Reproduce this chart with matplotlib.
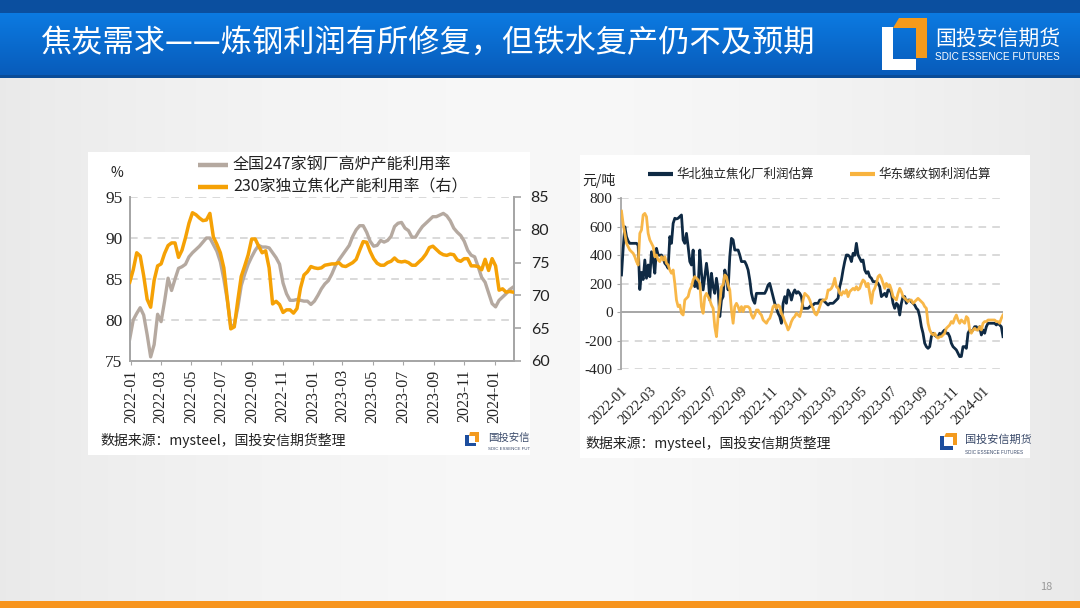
import numpy as np
import pandas as pd
import matplotlib
matplotlib.use('Agg')
import matplotlib.pyplot as plt
from matplotlib.patches import Rectangle, Polygon

plt.rcParams['font.family'] = ['Noto Sans CJK SC', 'DejaVu Sans']
plt.rcParams['axes.unicode_minus'] = False

# ---------------- data ----------------
title = '焦炭需求——炼钢利润有所修复，但铁水复产仍不及预期'
left_series_names = ['全国247家钢厂高炉产能利用率', '230家独立焦化产能利用率（右）']
right_series_names = ['华北独立焦化厂利润估算', '华东螺纹钢利润估算']
source_text = '数据来源：mysteel，国投安信期货整理'

# weekly, left chart (starting end of Dec 2021)
bf_util = [
    77.7, 80.0, 80.8, 81.5, 80.6, 78.2, 75.5, 77.0, 80.7, 79.8,
    82.3, 85.1, 83.6, 85.0, 86.3, 86.5, 86.8, 87.7, 88.2, 88.6,
    89.0, 89.5, 90.0, 90.0, 89.2, 88.4, 87.1, 85.0, 82.4, 79.2,
    79.4, 81.5, 84.2, 85.6, 86.8, 87.7, 88.5, 89.1, 88.9, 88.9,
    88.8, 88.2, 87.6, 86.8, 84.5, 83.2, 82.4, 82.4, 82.5, 82.4,
    82.3, 82.3, 81.9, 82.3, 83.0, 83.8, 84.4, 84.8, 85.6, 86.6,
    87.3, 87.9, 88.5, 89.1, 90.2, 91.0, 91.5, 91.5, 90.7, 89.6,
    89.0, 89.1, 89.7, 89.5, 89.7, 90.2, 91.4, 91.8, 91.9, 91.2,
    90.9, 90.1, 90.1, 90.8, 91.4, 91.8, 92.2, 92.6, 92.6, 92.8,
    93.0, 92.7, 92.1, 91.2, 90.7, 90.3, 89.6, 88.5, 87.9, 87.7,
    86.5, 85.2, 84.6, 83.3, 82.0, 81.6, 82.4, 82.8, 83.2, 83.7,
    84.0]
coke_util = [
    72.0, 73.9, 76.5, 76.0, 73.0, 69.4, 68.2, 72.3, 74.5, 74.8,
    76.4, 77.6, 78.0, 78.0, 75.8, 76.9, 78.8, 81.0, 82.6, 82.3,
    81.8, 81.4, 81.5, 82.5, 78.9, 77.8, 76.5, 74.2, 69.5, 64.9,
    65.2, 69.2, 72.9, 74.5, 76.2, 78.6, 78.6, 77.5, 76.5, 76.8,
    74.2, 68.7, 69.1, 68.6, 67.4, 67.8, 67.8, 67.3, 68.0, 71.1,
    73.1, 73.6, 74.4, 74.2, 74.1, 74.2, 74.6, 74.7, 74.8, 74.8,
    75.0, 74.5, 74.4, 74.7, 75.0, 75.5, 76.9, 78.2, 78.1, 76.7,
    75.6, 74.9, 74.6, 74.6, 75.0, 75.2, 75.7, 75.2, 75.1, 75.2,
    75.0, 74.6, 74.6, 75.1, 75.6, 76.3, 77.3, 77.5, 77.0, 76.5,
    76.2, 76.1, 76.3, 76.2, 75.4, 75.2, 75.6, 75.6, 74.5, 74.5,
    74.4, 73.9, 75.5, 73.8, 75.6, 74.5, 70.8, 71.0, 70.5, 70.6,
    70.5]

# right chart, evenly spaced from 2022-01-02 to 2024-02-12 (yuan/ton)
coke_profit = [
    262, 450, 600, 530, 500, 484, 484, 484, 484, 484,
    470, 160, 280, 230, 367, 239, 332, 250, 425, 367,
    274, 449, 402, 400, 402, 380, 344, 330, 309, 531,
    484, 624, 660, 655, 660, 671, 683, 508, 484, 554,
    461, 356, 332, 437, 180, 215, 168, 437, 274, 157,
    250, 344, 250, 86, 274, 180, 133, 239, 157, -30,
    86, 110, 297, 250, 157, 390, 519, 508, 437, 437,
    437, 402, 356, 356, 356, 332, 297, 227, 133, 86,
    63, 133, 133, 133, 133, 133, 133, 157, 192, 203,
    157, 110, 63, 28, -7, -30, -77, 63, 110, 63,
    157, 133, 86, 133, 157, 133, 145, 133, 110, 28,
    28, 28, 28, 40, 51, 51, 63, 63, 63, 86,
    86, 86, 75, 63, 51, 63, 63, 63, 75, 86,
    98, 180, 227, 297, 356, 402, 402, 390, 356, 414,
    400, 484, 402, 379, 356, 367, 297, 274, 285, 250,
    239, 215, 215, 215, 203, 180, 110, 121, 133, 110,
    157, 157, 133, 63, 28, 63, 51, -19, 63, 110,
    110, 63, 86, 86, 75, 63, 51, 28, 16, -30,
    -101, -147, -217, -241, -253, -241, -171, -147, -159, -171,
    -171, -147, -159, -136, -124, -147, -147, -171, -217, -241,
    -253, -264, -288, -311, -310, -241, -241, -253, -147, -124,
    -136, -124, -101, -101, -124, -101, -159, -124, -147, -101,
    -77, -77, -77, -77, -77, -89, -77, -89, -101, -171]
rebar_profit = [
    710, 620, 554, 484, 461, 437, 425, 414, 390, 356,
    332, 554, 578, 683, 694, 671, 554, 508, 484, 461,
    390, 402, 367, 356, 390, 367, 390, 344, 332, 297,
    274, 297, 203, 86, 40, 51, -7, -19, 86, 98,
    110, 157, 180, 227, 250, 239, 227, 203, 40, -7,
    110, 133, 110, 86, 51, 28, -101, -171, -30, 63,
    180, 192, 262, 250, 192, 157, 16, -77, 40, 63,
    40, 5, 40, 5, 40, 40, 40, 28, -19, -42,
    -19, 16, 16, -7, -19, -54, -65, -77, -54, -42,
    -7, 40, 51, 28, 51, 40, -7, -30, -65, -89,
    -124, -101, -65, -42, -30, -7, -19, -30, 16, 86,
    133, 121, 110, 86, 51, 28, -7, -19, 5, 40,
    75, 86, 86, 98, 157, 157, 168, 192, 239, 180,
    168, 133, 121, 145, 133, 157, 110, 145, 157, 168,
    157, 180, 157, 168, 203, 227, 215, 180, 203, 133,
    63, 145, 168, 203, 250, 262, 239, 203, 168, 203,
    180, 192, 157, 110, 98, 86, 133, 168, 145, 110,
    98, 86, 75, 86, 86, 63, 75, 86, 98, 86,
    75, 63, 40, 28, -77, -124, -147, -159, -147, -171,
    -182, -171, -171, -159, -147, -112, -101, -89, -65, -77,
    -42, -19, -54, -77, -54, -65, -77, -30, -42, -124,
    -147, -124, -112, -124, -124, -101, -124, -77, -65, -65,
    -54, -54, -54, -54, -54, -65, -65, -77, -42, -19]

month_labels = ['2022-01', '2022-03', '2022-05', '2022-07', '2022-09', '2022-11',
                '2023-01', '2023-03', '2023-05', '2023-07', '2023-09', '2023-11',
                '2024-01']
left_yticks = [75, 80, 85, 90, 95]
right_axis_ticks = [60, 65, 70, 75, 80, 85]
profit_ticks = [-400, -200, 0, 200, 400, 600, 800]

left_dates = pd.date_range('2021-12-29', periods=len(bf_util), freq='7D')
right_dates = pd.date_range('2022-01-02', '2024-02-12', periods=len(coke_profit))
month_pos = pd.to_datetime([m + '-01' for m in month_labels])

# ---------------- figure / background ----------------
W, H = 1080, 608
fig = plt.figure(figsize=(W / 100, H / 100), dpi=100)
bg = fig.add_axes([0, 0, 1, 1], zorder=0)
bg.axis('off')

xx = np.linspace(0, 1, 300)
b = 0.972 - 0.055 * np.abs(2 * xx - 1) ** 1.6
bgimg = np.stack([b, b, b], axis=-1)[None, :, :].repeat(2, axis=0)
bg.imshow(bgimg, extent=(0, W, H, 77), aspect='auto', interpolation='bilinear')

t = np.linspace(0, 1, 64)
c1 = np.array([0x0C, 0x7B, 0xE2]) / 255
c2 = np.array([0x08, 0x5B, 0xBA]) / 255
hdr = c1[None, :] * (1 - t[:, None]) + c2[None, :] * t[:, None]
hdr = hdr[:, None, :].repeat(2, axis=1)
bg.imshow(hdr, extent=(0, W, 76, 12), aspect='auto', interpolation='bilinear')
bg.add_patch(Rectangle((0, 0), W, 12.5, fc='#0B4F9F', ec='none'))
bg.add_patch(Rectangle((0, 75), W, 2.5, fc='#0A4C98', ec='none'))
bg.set_xlim(0, W)
bg.set_ylim(H, 0)

bg.text(40, 44, title, color='white', fontsize=22.5, va='center', ha='left')

# top-right logo
bg.add_patch(Polygon([(899, 18), (927, 18), (927, 58), (916, 58), (916, 28), (893, 28)],
                     closed=True, fc='#F59A1B', ec='none'))
bg.add_patch(Polygon([(882, 27), (893, 27), (893, 59), (916, 59), (916, 70), (882, 70)],
                     closed=True, fc='white', ec='none'))
bg.text(935, 39, '国投安信期货', color='white', fontsize=15, va='center', ha='left')
bg.text(935, 57.5, 'SDIC ESSENCE FUTURES', color='white', fontsize=7.2, va='center',
        ha='left', family=['Liberation Sans', 'DejaVu Sans'])

# panels
left_panel = Rectangle((88, 152), 442, 303, fc='white', ec='none')
bg.add_patch(left_panel)
bg.add_patch(Rectangle((580, 155), 450, 303, fc='white', ec='none'))


def small_logo(x0, y0, s, tx, ty, fs, clip=None):
    bg.add_patch(Polygon([(x0 + 0.35 * s, y0), (x0 + s, y0), (x0 + s, y0 + 0.72 * s),
                          (x0 + 0.74 * s, y0 + 0.72 * s), (x0 + 0.74 * s, y0 + 0.26 * s),
                          (x0 + 0.25 * s, y0 + 0.26 * s)], fc='#F39A1E', ec='none'))
    bg.add_patch(Polygon([(x0, y0 + 0.2 * s), (x0 + 0.25 * s, y0 + 0.2 * s),
                          (x0 + 0.25 * s, y0 + 0.75 * s), (x0 + 0.78 * s, y0 + 0.75 * s),
                          (x0 + 0.78 * s, y0 + s), (x0, y0 + s)], fc='#1D4E9E', ec='none'))
    t1 = bg.text(tx, ty, '国投安信期货', color='#3A4A6A', fontsize=fs, va='center', ha='left')
    t2 = bg.text(tx, ty + 0.75 * s, 'SDIC ESSENCE FUTURES', color='#3A4A6A', fontsize=fs * 0.42,
                 va='center', ha='left', family=['Liberation Sans', 'DejaVu Sans'])
    if clip is not None:
        for a in (t1, t2):
            a.set_clip_path(clip)
            a.set_clip_on(True)


small_logo(465, 432, 14, 488, 438, 7.5, clip=left_panel)
small_logo(940, 433, 17, 965, 440, 8)

bg.text(100, 440, source_text, fontsize=10, color='#222222', va='center', ha='left')
bg.text(585, 443, source_text, fontsize=10, color='#222222', va='center', ha='left')

bg.text(1046, 587, '18', fontsize=8, color='#999999', ha='center', va='center')
bg.add_patch(Rectangle((0, 601), W, 7, fc='#F7941D', ec='none'))

# legends (drawn in pixel space)
gray_c = '#B5A9A0'
orange_c = '#F5A105'
navy_c = '#0F2A44'
lorange_c = '#F8B33E'
bg.plot([198, 228], [165, 165], color=gray_c, lw=3.2, solid_capstyle='butt')
bg.text(233, 165, left_series_names[0], fontsize=11.5, style='italic', va='center', color='#222')
bg.plot([198, 228], [187, 187], color=orange_c, lw=3.2, solid_capstyle='butt')
bg.text(233, 187, left_series_names[1], fontsize=11.5, style='italic', va='center', color='#222')
bg.text(117, 173, '%', fontsize=10, va='center', ha='center', color='#222')

bg.plot([648, 673], [174, 174], color=navy_c, lw=3, solid_capstyle='butt')
bg.text(676, 174, right_series_names[0], fontsize=9, style='italic', va='center', color='#222')
bg.plot([850, 875], [174, 174], color=lorange_c, lw=3, solid_capstyle='butt')
bg.text(878, 174, right_series_names[1], fontsize=9, style='italic', va='center', color='#222')
bg.text(599, 180, '元/吨', fontsize=10, va='center', ha='center', color='#222')

spine_c = '#A6A6A6'
grid_c = '#CFCFCF'

# ---------------- left chart ----------------
ax1 = fig.add_axes([129.5 / W, 1 - 361 / H, 384.5 / W, 164 / H], zorder=2)
ax1.set_facecolor('none')
ax1.plot(left_dates, bf_util, color=gray_c, lw=2.4, zorder=3)
ax1.set_ylim(75, 95)
ax1.set_yticks(left_yticks)
ax1.set_xlim(pd.Timestamp('2021-12-28 12:00'), pd.Timestamp('2024-02-09'))
ax1.set_xticks(month_pos)
ax1.set_xticklabels(month_labels, rotation=90)
for v in [80, 85, 90, 95]:
    ax1.axhline(v, color=grid_c, lw=1.1, ls=(0, (5, 4)), zorder=1)
for s in ['left', 'bottom', 'right']:
    ax1.spines[s].set_color(spine_c)
    ax1.spines[s].set_linewidth(1.3)
ax1.spines['top'].set_visible(False)
ax1.tick_params(axis='y', length=0, pad=5, labelsize=12.5, labelfontfamily='Liberation Serif',
                labelcolor='#222')
ax1.tick_params(axis='x', length=3, color=spine_c, pad=3, labelsize=11.5,
                labelfontfamily='Liberation Serif', labelcolor='#222')

ax2 = ax1.twinx()
ax2.set_facecolor('none')
ax2.plot(left_dates, coke_util, color=orange_c, lw=2.5, zorder=3)
ax2.set_ylim(60, 85)
ax2.set_yticks(right_axis_ticks)
for s in ['left', 'bottom', 'right']:
    ax2.spines[s].set_color(spine_c)
    ax2.spines[s].set_linewidth(1.3)
ax2.spines['top'].set_visible(False)
ax2.tick_params(axis='y', length=5, width=1.2, color=spine_c, pad=7, labelsize=11.5,
                labelfontfamily='Lato', labelcolor='#222')

# ---------------- right chart ----------------
ax3 = fig.add_axes([621 / W, 1 - 369.3 / H, 382 / W, 171 / H], zorder=2)
ax3.set_facecolor('none')
for v in profit_ticks:
    if v != 0:
        ax3.axhline(v, color=grid_c, lw=1.1, ls=(0, (5, 4)), zorder=1)
ax3.axhline(0, color=spine_c, lw=1.4, zorder=1.5)
ax3.plot(right_dates, coke_profit, color=navy_c, lw=2.0, zorder=3)
ax3.plot(right_dates, rebar_profit, color=lorange_c, lw=2.0, zorder=3, alpha=0.95)
ax3.set_ylim(-400, 800)
ax3.set_yticks(profit_ticks)
ax3.set_xlim(pd.Timestamp('2022-01-01'), pd.Timestamp('2024-02-12'))
ax3.set_xticks(month_pos)
ax3.set_xticklabels(month_labels, rotation=45, ha='right', rotation_mode='anchor')
for s in ['top', 'right', 'bottom']:
    ax3.spines[s].set_visible(False)
ax3.spines['left'].set_color(spine_c)
ax3.spines['left'].set_linewidth(1.3)
ax3.tick_params(axis='y', length=3, color=spine_c, pad=3, labelsize=11,
                labelfontfamily='Liberation Serif', labelcolor='#222')
ax3.tick_params(axis='x', length=0, pad=11, labelsize=10.3,
                labelfontfamily='Liberation Serif', labelcolor='#222')

fig.savefig('out.png', dpi=100)
